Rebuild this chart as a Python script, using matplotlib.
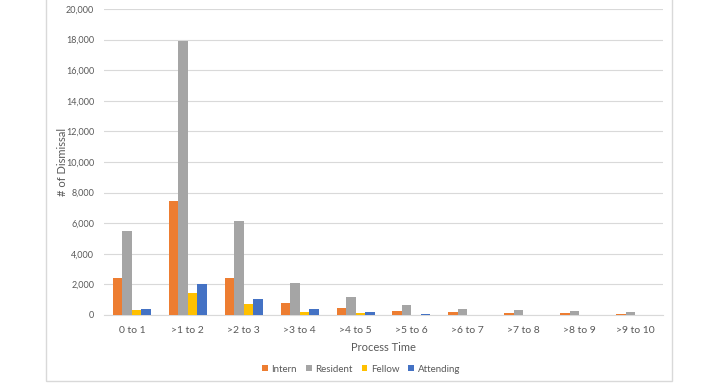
import matplotlib
matplotlib.use('Agg')
import matplotlib.pyplot as plt
import numpy as np
from matplotlib.patches import Rectangle
from matplotlib.ticker import FuncFormatter

plt.rcParams['font.family'] = ['Lato', 'DejaVu Sans']

# data
bins = ['0 to 1', '>1 to 2', '>2 to 3', '>3 to 4', '>4 to 5',
        '>5 to 6', '>6 to 7', '>7 to 8', '>8 to 9', '>9 to 10']
intern = [2450, 7450, 2450, 800, 480, 250, 200, 120, 120, 60]
resident = [5500, 17900, 6150, 2100, 1200, 650, 420, 300, 270, 200]
fellow = [300, 1450, 700, 200, 100, 20, 10, 5, 5, 0]
attending = [420, 2050, 1050, 380, 200, 80, 10, 5, 0, 0]

series = [('Intern', intern, '#ED7D31'),
          ('Resident', resident, '#A5A5A5'),
          ('Fellow', fellow, '#FFC000'),
          ('Attending', attending, '#4472C4')]

txt = '#595959'

fig = plt.figure(figsize=(7.2, 3.83), dpi=100)
# chart frame
fig.patches.append(Rectangle((46/720, 2/383), (672-46)/720, 1.2, transform=fig.transFigure,
                             fill=False, edgecolor='#D9D9D9', linewidth=1))
ax = fig.add_axes([104/720, 1-315/383, (663-104)/720, (315-9)/383])

x = np.arange(len(bins))
w = 0.17
for i, (name, vals, col) in enumerate(series):
    ax.bar(x + (i-1.5)*w, vals, w, color=col, label=name, zorder=3)

ax.set_xlim(-0.5, len(bins)-0.5)
ax.set_ylim(0, 20000)
ax.set_yticks(range(0, 20001, 2000))
ax.yaxis.set_major_formatter(FuncFormatter(lambda v, p: f'{int(v):,}'))
ax.set_xticks(x)
ax.set_xticklabels(bins)
ax.grid(axis='y', color='#D9D9D9', linewidth=0.8, zorder=0)
for s in ['top', 'right', 'left']:
    ax.spines[s].set_visible(False)
ax.spines['bottom'].set_color('#D9D9D9')
ax.tick_params(axis='both', length=0, colors=txt)
ax.tick_params(axis='y', labelsize=6.5, pad=7)
ax.tick_params(axis='x', labelsize=7.5, pad=8)
ax.set_xlabel('Process Time', fontsize=8, color=txt, labelpad=5)
ax.set_ylabel('# of Dismissal', fontsize=8, color=txt)
ax.yaxis.set_label_coords(-0.065, 0.5)

ax.legend(loc='center', bbox_to_anchor=(0.46, -0.177), ncol=4, frameon=False,
          fontsize=7, labelcolor=txt, handlelength=0.6, handleheight=0.6,
          columnspacing=0.9, handletextpad=0.4)

fig.savefig('out.png', dpi=100)
